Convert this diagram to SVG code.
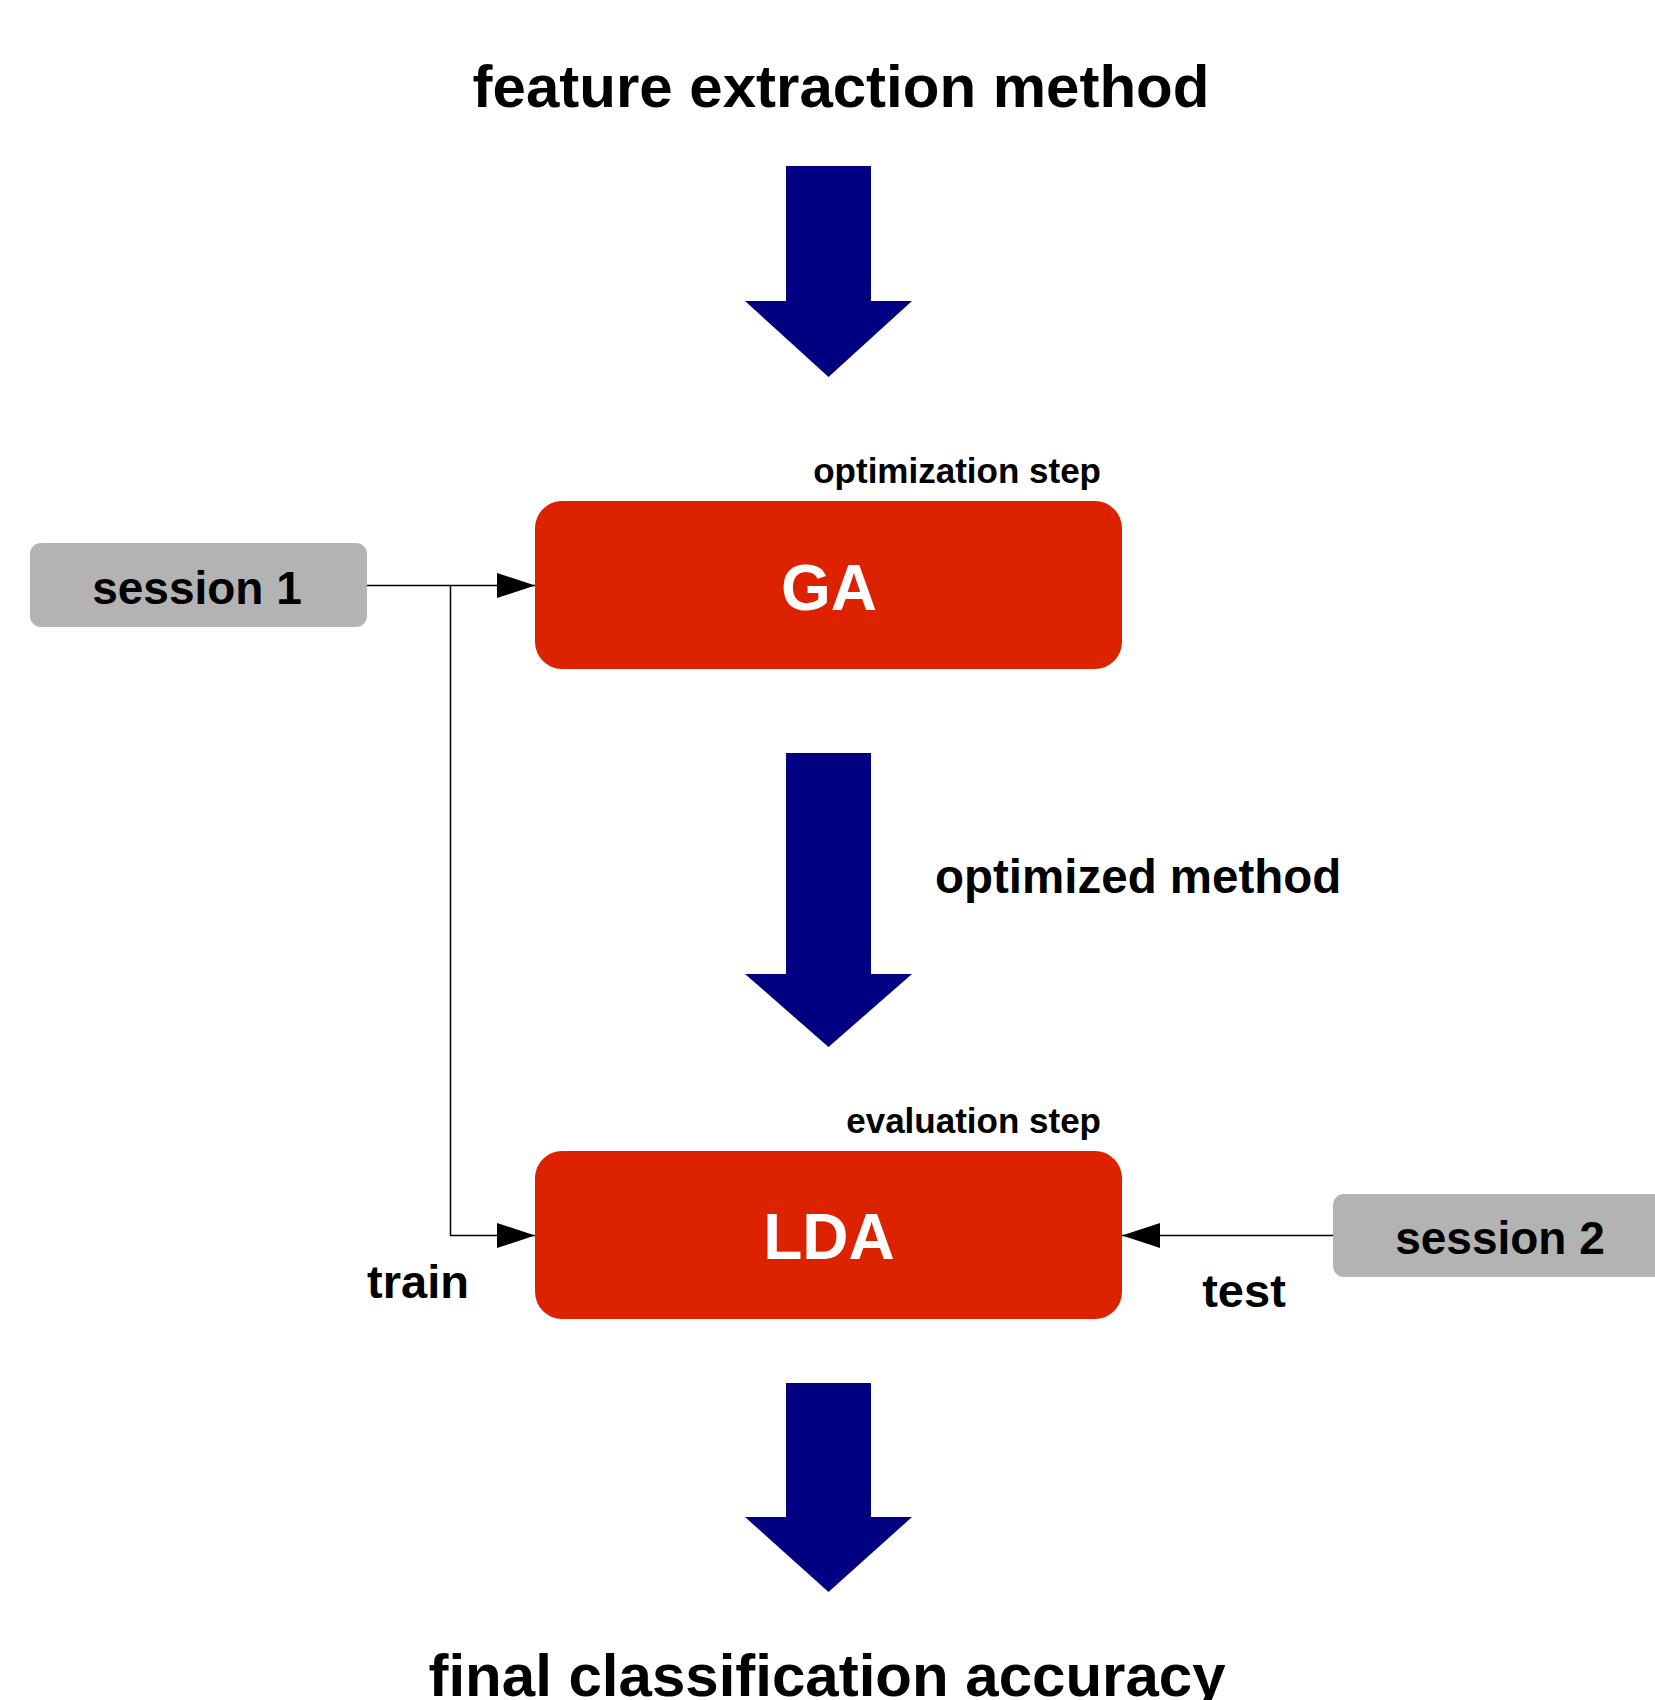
<svg xmlns="http://www.w3.org/2000/svg" width="1655" height="1700" viewBox="0 0 1655 1700">
  <style>
    text { font-family: "Liberation Sans", Arial, sans-serif; font-weight: bold; fill: #000; }
    .step { fill: #dd2200; }
    .session { fill: #b3b3b3; }
    .block { fill: #000080; }
    .wire { fill: none; stroke: #000; stroke-width: 1.5; }
    .big { font-size: 60px; }
    .mid { font-size: 47px; }
    .small { font-size: 35px; }
    .inbox { font-size: 64px; fill: #fff; }
  </style>
  <defs>
    <marker id="head" markerUnits="userSpaceOnUse" markerWidth="38" markerHeight="26" refX="38" refY="12.5" orient="auto">
      <path d="M0,0 L38,12.5 L0,25 Z" fill="#000"/>
    </marker>
  </defs>
  <rect width="1655" height="1700" fill="#fff"/>

  <text id="title" class="big" x="841" y="107" text-anchor="middle">feature extraction method</text>

  <g id="connectors">
    <!-- wide flow arrows -->
    <path class="block" d="M786,166 H871 V301 H912 L828.5,377 L745,301 H786 Z"/>
    <path class="block" d="M786,753 H871 V974 H912 L828.5,1047 L745,974 H786 Z"/>
    <path class="block" d="M786,1383 H871 V1517 H912 L828.5,1592 L745,1517 H786 Z"/>
    <!-- session inputs -->
    <path class="wire" d="M367,585.5 H535" marker-end="url(#head)"/>
    <path class="wire" d="M450.5,585.5 V1235.5 H535" marker-end="url(#head)"/>
    <path class="wire" d="M1333,1235.5 H1122" marker-end="url(#head)"/>
  </g>

  <g id="session1">
    <rect class="session" x="30" y="543" width="337" height="84" rx="11"/>
    <text class="mid" x="197" y="604" text-anchor="middle" style="font-size:46px">session 1</text>
  </g>

  <g id="ga">
    <text class="small" x="1101" y="483" text-anchor="end">optimization step</text>
    <rect class="step" x="535" y="501" width="587" height="168" rx="27"/>
    <text class="inbox" x="829" y="610" text-anchor="middle">GA</text>
  </g>

  <text id="optimized" class="mid" x="935" y="893" style="font-size:47.5px">optimized method</text>

  <g id="lda">
    <text class="small" x="1101" y="1133" text-anchor="end">evaluation step</text>
    <rect class="step" x="535" y="1151" width="587" height="168" rx="27"/>
    <text class="inbox" x="829" y="1259" text-anchor="middle">LDA</text>
  </g>

  <g id="session2">
    <rect class="session" x="1333" y="1194" width="340" height="83" rx="11"/>
    <text class="mid" x="1500" y="1254" text-anchor="middle" style="font-size:46px">session 2</text>
  </g>

  <text id="train" class="mid" x="418" y="1298" text-anchor="middle">train</text>
  <text id="test" class="mid" x="1244" y="1307" text-anchor="middle">test</text>

  <text id="result" class="big" x="827" y="1696" text-anchor="middle">final classification accuracy</text>
</svg>
